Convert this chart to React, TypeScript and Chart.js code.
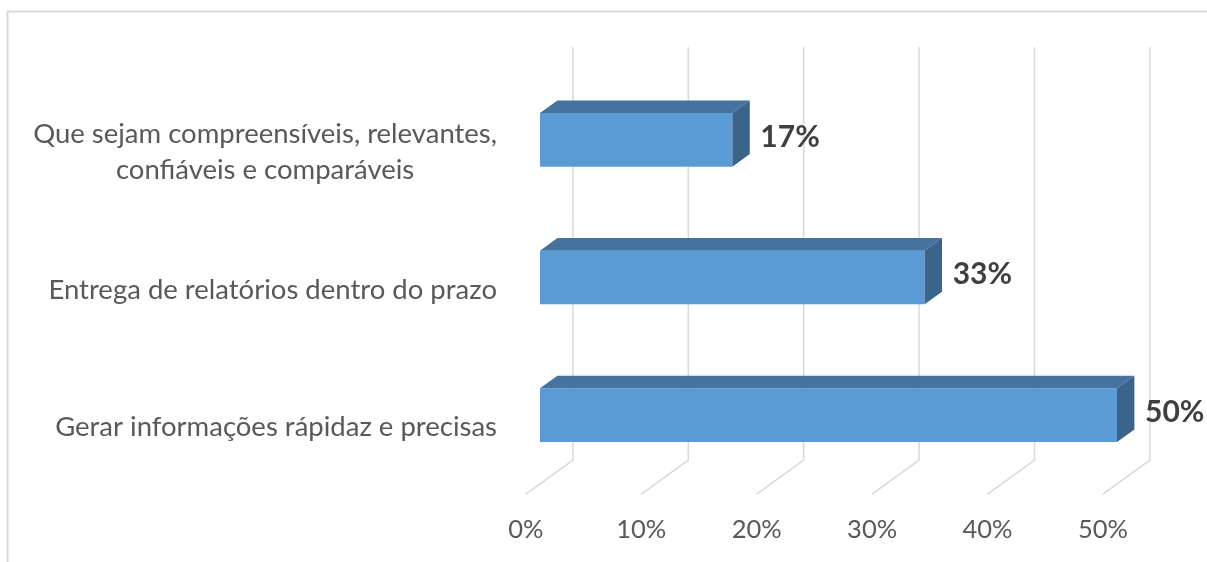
import React, { useEffect, useRef } from "react";
import { Chart, registerables } from "chart.js";

Chart.register(...registerables);

// ---- data ----
const CATEGORIES: string[][] = [
  ["Que sejam compreensíveis, relevantes,", "confiáveis e comparáveis"],
  ["Entrega de relatórios dentro do prazo"],
  ["Gerar informações rápidaz e precisas"],
];
const VALUES: number[] = [16.67, 33.33, 50];
const VALUE_LABELS: string[] = ["17%", "33%", "50%"];
const X_TICKS: number[] = [0, 10, 20, 30, 40, 50];
const X_TICK_LABELS: string[] = ["0%", "10%", "20%", "30%", "40%", "50%"];

// ---- style ----
const FONT = "Lato, 'Open Sans', 'DejaVu Sans', sans-serif";
const FRONT = "#5B9BD5";
const TOP = "#44739F";
const SIDE = "#3A6489";
const GRID = "#D9D9D9";
// oblique projection of the full depth (front floor -> back wall)
const DEPTH_X = 47;
const DEPTH_Y = -34;
const BAR_FRONT = 0.3; // bar front plane depth
const BAR_BACK = 0.67; // bar back plane depth

const threeD = {
  id: "threeD",
  beforeDatasetsDraw(chart: any) {
    const ctx = chart.ctx;
    const xs = chart.scales.x;
    const area = chart.chartArea;
    ctx.save();
    // frame
    ctx.strokeStyle = GRID;
    ctx.lineWidth = 2;
    ctx.beginPath();
    ctx.moveTo(7.5, 562);
    ctx.lineTo(7.5, 11.5);
    ctx.lineTo(1207, 11.5);
    ctx.stroke();

    const bx = (1 - BAR_FRONT) * DEPTH_X;
    const by = (1 - BAR_FRONT) * DEPTH_Y;
    const fx = -BAR_FRONT * DEPTH_X;
    const fy = -BAR_FRONT * DEPTH_Y;
    ctx.lineWidth = 1.5;
    X_TICKS.forEach((v) => {
      const px = xs.getPixelForValue(v);
      ctx.beginPath();
      ctx.moveTo(px + bx, area.top + by);
      ctx.lineTo(px + bx, area.bottom + by);
      ctx.lineTo(px + fx, area.bottom + fy);
      ctx.stroke();
    });
    ctx.restore();
  },
  afterDatasetsDraw(chart: any) {
    const ctx = chart.ctx;
    const meta = chart.getDatasetMeta(0);
    const xs = chart.scales.x;
    const ys = chart.scales.y;
    const area = chart.chartArea;
    const dx = (BAR_BACK - BAR_FRONT) * DEPTH_X;
    const dy = (BAR_BACK - BAR_FRONT) * DEPTH_Y;
    ctx.save();
    meta.data.forEach((bar: any, i: number) => {
      const { x, y, base, height } = bar.getProps(["x", "y", "base", "height"], true);
      const t = y - height / 2;
      const b = y + height / 2;
      // top face
      ctx.fillStyle = TOP;
      ctx.beginPath();
      ctx.moveTo(base, t);
      ctx.lineTo(x, t);
      ctx.lineTo(x + dx, t + dy);
      ctx.lineTo(base + dx, t + dy);
      ctx.closePath();
      ctx.fill();
      // side face
      ctx.fillStyle = SIDE;
      ctx.beginPath();
      ctx.moveTo(x, t);
      ctx.lineTo(x + dx, t + dy);
      ctx.lineTo(x + dx, b + dy);
      ctx.lineTo(x, b);
      ctx.closePath();
      ctx.fill();
      // value label
      ctx.fillStyle = "#404040";
      ctx.font = `bold 30px ${FONT}`;
      ctx.textAlign = "left";
      ctx.textBaseline = "middle";
      ctx.fillText(VALUE_LABELS[i], x + 28, y - 3);
    });

    // category labels (front plane)
    const fyOff = -BAR_FRONT * DEPTH_Y;
    ctx.fillStyle = "#595959";
    ctx.font = `27.5px ${FONT}`;
    ctx.textBaseline = "middle";
    ctx.textAlign = "center";
    const right = 497;
    const lh = 36;
    CATEGORIES.forEach((lines, i) => {
      const cy = ys.getPixelForValue(i) + fyOff + 2;
      const w = Math.max(...lines.map((l) => ctx.measureText(l).width));
      const cx = right - w / 2;
      const y0 = cy - ((lines.length - 1) * lh) / 2;
      lines.forEach((l, j) => ctx.fillText(l, cx, y0 + j * lh));
    });

    // x tick labels (front floor)
    const fxOff = -BAR_FRONT * DEPTH_X;
    ctx.font = `25.5px ${FONT}`;
    ctx.textAlign = "center";
    X_TICKS.forEach((v, i) => {
      ctx.fillText(X_TICK_LABELS[i], xs.getPixelForValue(v) + fxOff, area.bottom + fyOff + 36);
    });
    ctx.restore();
  },
};

export default function App() {
  const ref = useRef<HTMLCanvasElement>(null);
  useEffect(() => {
    if (!ref.current) return;
    const chart = new Chart(ref.current, {
      type: "bar",
      data: {
        labels: CATEGORIES as any,
        datasets: [
          {
            data: VALUES,
            backgroundColor: FRONT,
            borderWidth: 0,
            categoryPercentage: 1,
            barPercentage: 0.39,
          },
        ],
      },
      options: {
        indexAxis: "y",
        responsive: false,
        animation: false,
        layout: { padding: { left: 540, right: 90, top: 71, bottom: 78 } },
        plugins: { legend: { display: false }, tooltip: { enabled: false } },
        scales: {
          x: { display: false, min: 0, max: 50, ticks: { stepSize: 10 } },
          y: { display: false },
        },
      },
      plugins: [threeD],
    });
    return () => chart.destroy();
  }, []);
  return (
    <div style={{ position: "fixed", left: 0, top: 0, width: 1207, height: 562, background: "#fff" }}>
      <canvas ref={ref} width={1207} height={562} style={{ width: 1207, height: 562 }} />
    </div>
  );
}
